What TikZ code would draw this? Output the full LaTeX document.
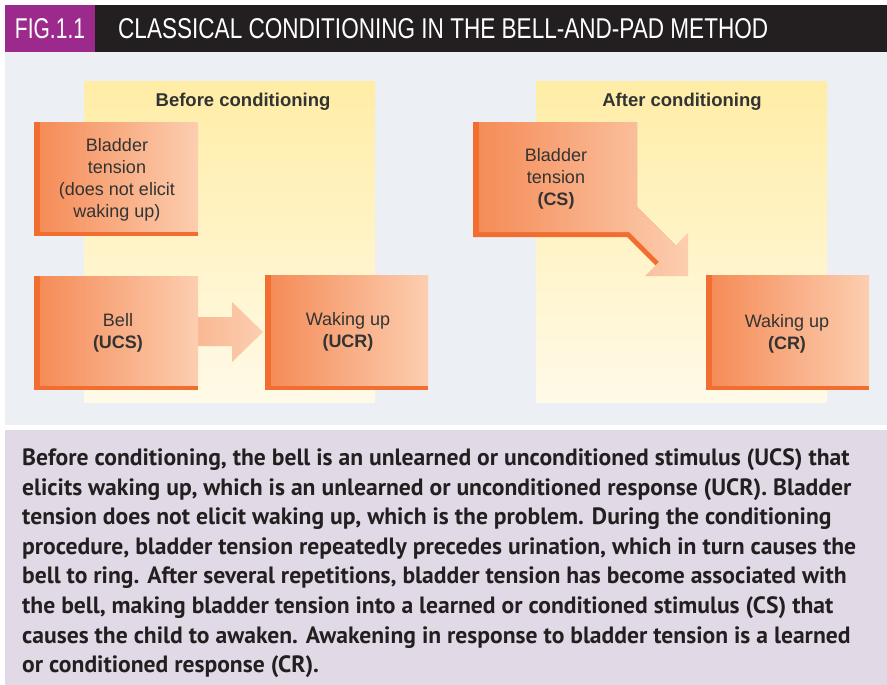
\documentclass[tikz,border=0pt]{standalone}
\usepackage{fontspec}
\setmainfont{Liberation Sans}
\newfontfamily\captionfont{PT Sans}

\definecolor{figpurple}{HTML}{9C2A8D}
\definecolor{barblack}{HTML}{231F20}
\definecolor{panelgray}{HTML}{ECEFF3}
\definecolor{lilac}{HTML}{E1D9E6}
\definecolor{yellowtop}{HTML}{FFEDA6}
\definecolor{yellowbot}{HTML}{FFFAE8}
\definecolor{orangedark}{HTML}{F26E30}
\definecolor{orangeleft}{HTML}{F58C58}
\definecolor{orangeright}{HTML}{FCCEB0}
\definecolor{arrowleft}{HTML}{F9B690}
\definecolor{textgray}{HTML}{333333}

\begin{document}
\begin{tikzpicture}[x=1pt,y=-1pt,
        face/.style={left color=orangeleft,right color=orangeright},
        shadow/.style={fill=orangedark},
        boxtext/.style={align=center,text=textgray,font=\fontsize{18}{22}\selectfont},
        headtext/.style={text=textgray,font=\fontsize{18.5}{22}\selectfont\bfseries}]
        \useasboundingbox (0,0) rectangle (887,685);
        \fill[white] (0,0) rectangle (887,685);
        % title bar
        \fill[barblack] (5,5) rectangle (887,52);
        \fill[figpurple] (5,5) rectangle (95,52);
        \node[text=white,inner sep=0] (fig) at (50,28.5) {\resizebox{70pt}{20pt}{FIG.1.1}};
        \node[text=white,inner sep=0,anchor=west] (title) at (118,28.5) {\resizebox{650pt}{20pt}{CLASSICAL CONDITIONING IN THE BELL-AND-PAD METHOD}};
        % panels
        \fill[panelgray] (5,52) rectangle (887,425);
        \shade[top color=yellowtop,bottom color=yellowbot] (84,82) rectangle (375,402);
        \shade[top color=yellowtop,bottom color=yellowbot] (536,82) rectangle (827,402);
        \fill[lilac] (5,430) rectangle (887,685);
        \node[headtext] (before) at (243,102) {Before conditioning};
        \node[headtext] (after) at (682,102) {After conditioning};
        % before conditioning
        \fill[shadow] (34,122) rectangle (198,236);
        \shade[face] (40,122) rectangle (198,231);
        \shade[left color=arrowleft,right color=orangeright] (190,317)--(232,317)--(232,302)--(263,332)--(232,362)--(232,346)--(190,346)--cycle;
        \fill[shadow] (34,276) rectangle (198,390);
        \shade[face] (40,276) rectangle (198,385);
        \fill[shadow] (265,275) rectangle (428,390);
        \shade[face] (271,275) rectangle (428,385);
        \node[boxtext] (tension) at (117,180) {Bladder\\tension\\(does not elicit\\waking up)};
        \node[boxtext] (bell) at (118,333) {Bell\\\textbf{(UCS)}};
        \node[boxtext] (ucr) at (348,332) {Waking up\\\textbf{(UCR)}};
        % after conditioning
        \fill[shadow] (473,122)--(637,122)--(637,207)--(675.5,245.5)--(655.5,265.5)--(627,237)--(473,237)--cycle;
        \shade[face] (479,122)--(637,122)--(637,207)--(675.5,245.5)--(688,233)--(688,276)--(645,276)--(659,262)--(629,232)--(479,232)--cycle;
        \fill[shadow] (706,275) rectangle (869,390);
        \shade[face] (712,275) rectangle (869,385);
        \node[boxtext] (cs) at (556,179) {Bladder\\tension\\\textbf{(CS)}};
        \node[boxtext] (cr) at (787,334) {Waking up\\\textbf{(CR)}};
        % caption
        \node[anchor=north west,inner sep=0,align=left,text=barblack,
              font=\captionfont\bfseries\fontsize{23.6}{29.6}\selectfont] (caption) at (22,448.5)
              {Before conditioning, the bell is an unlearned or unconditioned stimulus (UCS) that\\
               elicits waking up, which is an unlearned or unconditioned response (UCR). Bladder\\
               tension does not elicit waking up, which is the problem. During the conditioning\\
               procedure, bladder tension repeatedly precedes urination, which in turn causes the\\
               bell to ring. After several repetitions, bladder tension has become associated with\\
               the bell, making bladder tension into a learned or conditioned stimulus (CS) that\\
               causes the child to awaken. Awakening in response to bladder tension is a learned\\
               or conditioned response (CR).};
      \end{tikzpicture}
\end{document}
